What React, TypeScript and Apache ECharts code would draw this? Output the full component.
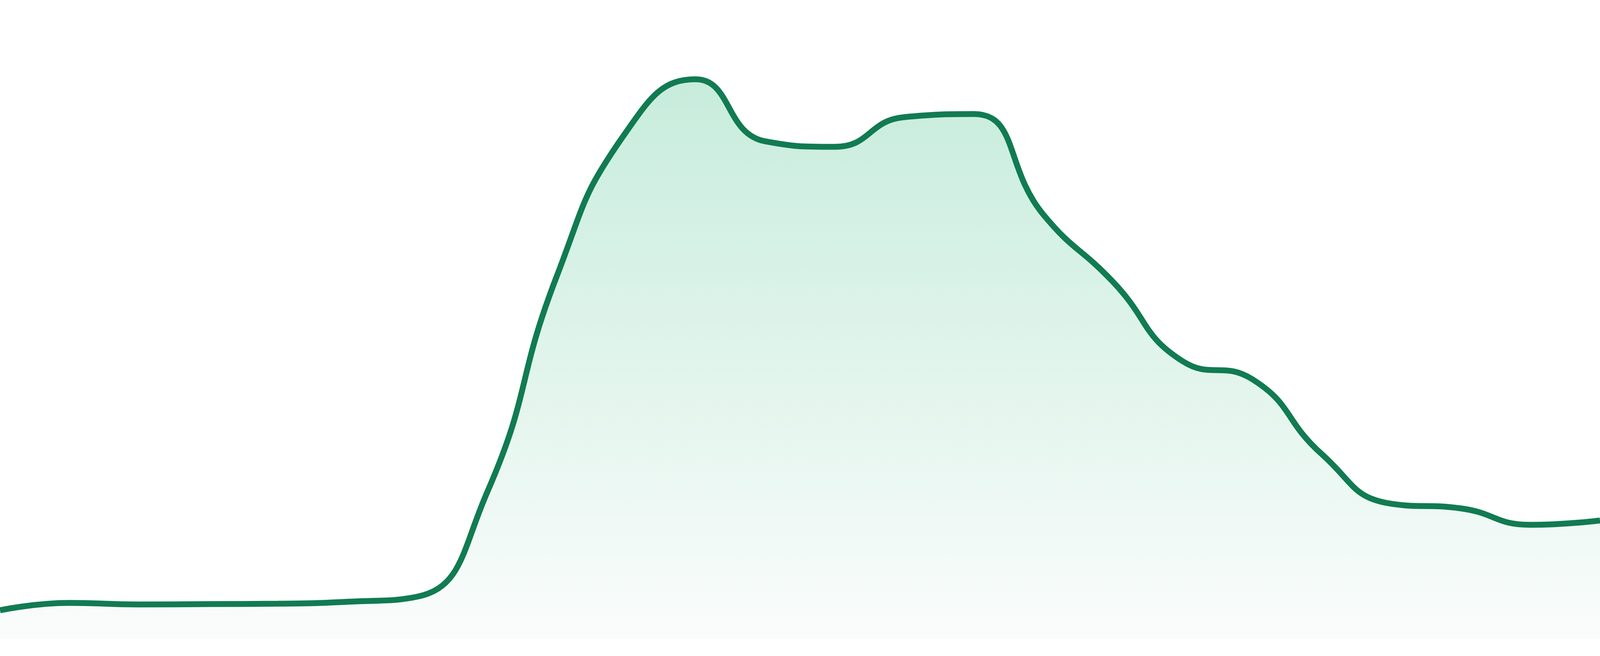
import React, { useEffect, useRef } from "react";
import * as echarts from "echarts";

const categories = [
  "P01", "P02", "P03", "P04", "P05", "P06", "P07", "P08",
  "P09", "P10", "P11", "P12", "P13", "P14", "P15", "P16",
  "P17", "P18", "P19", "P20", "P21", "P22", "P23", "P24",
];

const values = [
  4.48, 5.64, 5.4, 5.46, 5.52, 5.82, 6.62, 22.87,
  56.67, 79.34, 87.59, 77.88, 77.02, 81.67, 82.15, 66.39,
  55.88, 43.47, 40.66, 28.93, 21.16, 20.43, 17.86, 18.54,
];

const yMin = 0;
const yMax = 100;

const LINE_COLOR = "#117b52";
const FILL_TOP = "#afe4cd";
const FILL_BOTTOM = "#f8fbfa";

export default function App() {
  const ref = useRef<HTMLDivElement | null>(null);

  useEffect(() => {
    if (!ref.current) return;
    document.body.style.margin = "0";
    document.body.style.overflow = "hidden";
    const chart = echarts.init(ref.current, undefined, { renderer: "svg" });
    chart.setOption({
      animation: false,
      backgroundColor: "#ffffff",
      grid: { left: 0, right: 0, top: 0, bottom: "2.6%", containLabel: false },
      xAxis: {
        type: "category",
        data: categories,
        boundaryGap: false,
        show: false,
      },
      yAxis: {
        type: "value",
        min: yMin,
        max: yMax,
        show: false,
        splitLine: { show: false },
      },
      tooltip: { show: false },
      series: [
        {
          type: "line",
          data: values,
          smooth: true,
          symbol: "none",
          lineStyle: { color: LINE_COLOR, width: 15 },
          areaStyle: {
            color: new echarts.graphic.LinearGradient(0, 0, 0, 1, [
              { offset: 0, color: FILL_TOP },
              { offset: 1, color: FILL_BOTTOM },
            ]),
          },
        },
      ],
    });
    const onResize = () => chart.resize();
    window.addEventListener("resize", onResize);
    return () => {
      window.removeEventListener("resize", onResize);
      chart.dispose();
    };
  }, []);

  return (
    <div
      ref={ref}
      style={{
        position: "fixed",
        left: 0,
        top: 0,
        width: "100vw",
        height: "100vh",
        background: "#ffffff",
      }}
    />
  );
}
